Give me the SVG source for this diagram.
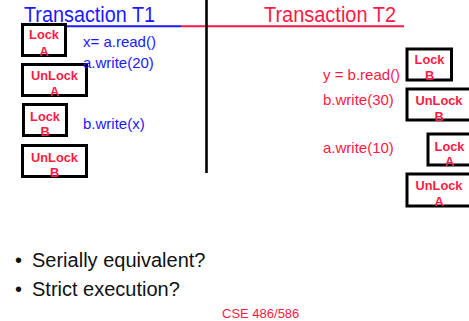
<svg xmlns="http://www.w3.org/2000/svg" width="469" height="321" viewBox="0 0 469 321">
<style>
.t{font-family:"Liberation Sans",Arial,sans-serif}
.h{font-size:21.5px}
.b{fill:#1a1aff;font-size:15px}
.r{fill:#ff1a45;font-size:15px}
.lk{fill:#ff1a45;font-size:12.8px;font-weight:bold;text-anchor:middle}
.box{fill:#fff;stroke:#000;stroke-width:3}
.k{fill:#111;font-size:20px}
</style>
<rect width="469" height="321" fill="#fff"/>
<g id="connectors">
<line x1="24" y1="26.3" x2="181" y2="26.3" stroke="#1a1aff" stroke-width="2"/>
<line x1="181" y1="26.3" x2="404" y2="26.3" stroke="#ff1a45" stroke-width="2"/>
<line x1="206.5" y1="0" x2="206.5" y2="173" stroke="#000" stroke-width="2.6"/>
</g>
<g id="title-t1"><text class="t h" x="24" y="22" fill="#1a1aff" textLength="131" lengthAdjust="spacingAndGlyphs">Transaction T1</text></g>
<g id="title-t2"><text class="t h" x="264" y="22" fill="#ff1a45" textLength="132" lengthAdjust="spacingAndGlyphs">Transaction T2</text></g>
<g id="t1-lockA"><rect class="box" x="22.5" y="24.5" width="43" height="31"/><text class="t lk" x="44" y="39">Lock</text><text class="t lk" x="44" y="55.5">A</text></g>
<g id="t1-unlockA"><rect class="box" x="22.5" y="64.5" width="64" height="31"/><text class="t lk" x="54.5" y="80">UnLock</text><text class="t lk" x="54.5" y="96">A</text></g>
<g id="t1-lockB"><rect class="box" x="23.5" y="104.5" width="43" height="31"/><text class="t lk" x="45" y="121">Lock</text><text class="t lk" x="45" y="136">B</text></g>
<g id="t1-unlockB"><rect class="box" x="22.5" y="145.5" width="64" height="31"/><text class="t lk" x="54.5" y="162">UnLock</text><text class="t lk" x="54.5" y="177">B</text></g>
<g id="t1-ops">
<text class="t b" x="83" y="47">x= a.read()</text>
<text class="t b" x="83" y="68">a.write(20)</text>
<text class="t b" x="83" y="129">b.write(x)</text>
</g>
<g id="t2-ops">
<text class="t r" x="323" y="80">y = b.read()</text>
<text class="t r" x="323" y="105">b.write(30)</text>
<text class="t r" x="323" y="153">a.write(10)</text>
</g>
<g id="t2-lockB"><rect class="box" x="407" y="49" width="44.5" height="31"/><text class="t lk" x="429.5" y="64">Lock</text><text class="t lk" x="429.5" y="80">B</text></g>
<g id="t2-unlockB"><rect class="box" x="407" y="89" width="66" height="31"/><text class="t lk" x="439" y="105">UnLock</text><text class="t lk" x="439" y="121">B</text></g>
<g id="t2-lockA"><rect class="box" x="428" y="134" width="46" height="31"/><text class="t lk" x="449.5" y="151">Lock</text><text class="t lk" x="449.5" y="166">A</text></g>
<g id="t2-unlockA"><rect class="box" x="407" y="174" width="66" height="32"/><text class="t lk" x="439" y="190">UnLock</text><text class="t lk" x="439" y="206">A</text></g>
<g id="questions">
<text class="t k" x="15" y="267">•</text>
<text class="t k" x="32" y="267">Serially equivalent?</text>
<text class="t k" x="15" y="296">•</text>
<text class="t k" x="32" y="296">Strict execution?</text>
</g>
<g id="footer"><text class="t" x="222" y="318" fill="#ff1a45" font-size="13">CSE 486/586</text></g>
</svg>
